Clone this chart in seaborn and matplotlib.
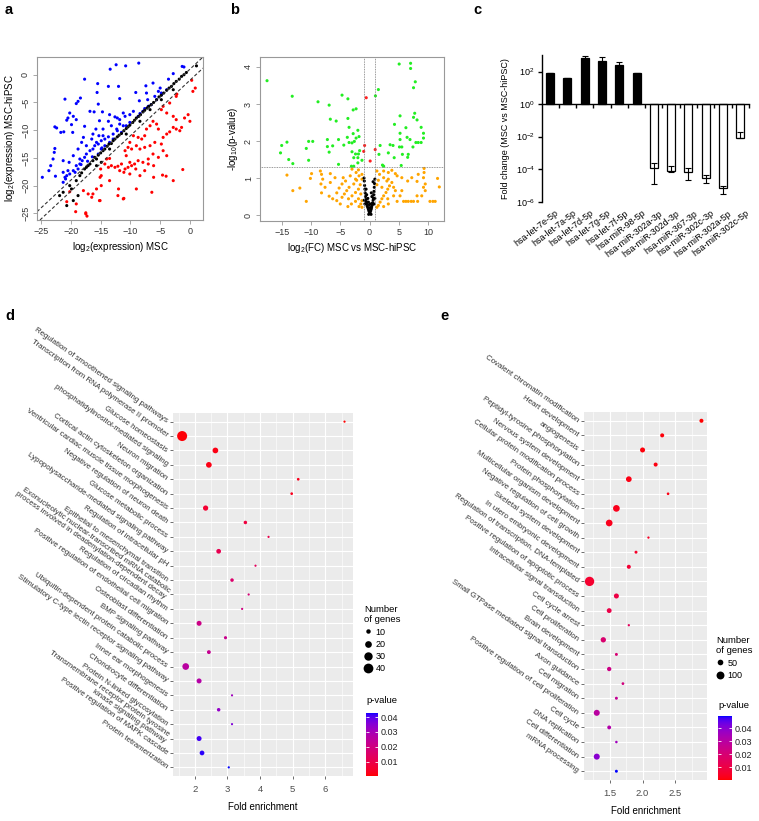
import numpy as np
import pandas as pd
import matplotlib
matplotlib.use("Agg")
import matplotlib.pyplot as plt
import seaborn as sns
from matplotlib.colors import LinearSegmentedColormap, Normalize
from matplotlib.cm import ScalarMappable
from matplotlib.lines import Line2D
from matplotlib.transforms import ScaledTranslation

# ---------------- data ----------------
# panel a : log2 expression MSC (x) vs MSC-hiPSC (y)
a_up_x = [-12.4, -10.8, -13.4, -8.6, -1.3, -1.0, -17.7, -15.5, -12.0, -13.7, -7.4, -6.2, -2.8, -3.6, -5.0, -5.3,
          -3.9, -9.1, -15.6, -21.0, -18.4, -18.8, -15.4, -19.1, -11.8, -8.5, -7.1, -5.9, -4.8, -7.3, -20.2, -19.6,
          -20.5, -20.7, -19.9, -22.7, -22.4, -21.2, -21.7, -19.7, -16.8, -16.1, -14.7, -15.2, -13.5, -12.6, -12.2,
          -11.8, -10.9, -11.2, -10.1, -9.5, -8.7, -8.4, -7.9, -7.6, -7.0, -6.5, -5.6, -4.8, -10.1, -10.7, -11.5,
          -12.2, -12.9, -13.7, -14.3, -14.9, -15.4, -16.0, -16.3, -16.8, -17.4, -17.7, -18.1, -18.5, -19.1, -18.8,
          -19.6, -20.2, -20.7, -21.0, -21.3, -22.7, -22.8, -23.0, -23.4, -23.7, -24.8, -22.6, -21.3, -19.6, -17.4,
          -16.5, -16.3, -15.8, -17.9, -17.7, -19.1, -15.3, -14.6, -13.2, -11.8, -11.2, -13.7, -15.7, -14.9, -14.3,
          -13.5, -12.9, -17.2, -18.3, -18.5, -19.3, -20.5, -20.9, -21.3, -20.3, -18.8, -18.2, -14.6, -16.4, -15.4,
          -14.8, -12.3]
a_up_y = [1.8, 1.6, 1.0, 2.1, 1.5, 1.4, -0.8, -1.6, -2.1, -2.1, -2.0, -1.5, 0.2, -0.8, -2.4, -3.0,
          -2.7, -3.2, -3.2, -4.4, -4.2, -4.8, -5.3, -5.2, -4.3, -4.7, -4.5, -3.9, -3.3, -3.3, -6.9, -7.5,
          -7.8, -8.2, -9.0, -9.4, -9.6, -10.3, -10.4, -10.4, -6.6, -6.7, -6.7, -8.3, -7.2, -7.6, -7.8,
          -8.1, -7.5, -6.9, -7.2, -6.6, -7.5, -7.0, -6.6, -6.1, -5.7, -5.4, -4.5, -3.6, -8.6, -9.2, -10.4,
          -10.1, -10.7, -11.2, -11.6, -11.9, -12.5, -12.8, -13.4, -13.7, -14.3, -14.9, -15.5, -16.1, -16.4, -17.0,
          -17.3, -17.9, -18.2, -18.5, -17.6, -13.3, -14.0, -15.2, -16.4, -17.3, -18.5, -18.3, -15.5, -14.6, -12.8,
          -11.6, -10.7, -9.8, -11.3, -9.3, -8.1, -11.0, -9.8, -9.2, -8.9, -9.2, -8.4, -12.2, -13.4, -12.8,
          -12.2, -11.6, -15.6, -16.2, -15.2, -17.6, -17.3, -18.8, -19.4, -15.8, -13.4, -12.2, -11.0, -14.8, -14.3,
          -13.2, -9.8]
a_down_x = [0.3, 0.9, 0.5, -2.2, -2.3, -3.4, -4.5, -4.8, -3.9, -2.8, -2.3, -0.9, -0.3, 0.0, -1.4, -1.7, -2.3,
            -2.8, -3.4, -3.9, -4.5, -5.3, -5.6, -6.2, -6.7, -7.3, -7.6, -8.1, -8.7, -9.5, -10.1, -10.4, -9.8,
            -9.0, -8.4, -7.6, -6.7, -5.9, -4.8, -4.5, -3.9, -5.3, -6.2, -7.0, -7.9, -8.7, -9.3, -9.8, -10.4,
            -10.9, -11.5, -12.1, -12.6, -13.2, -13.7, -14.3, -14.0, -13.5, -11.8, -11.1, -10.1, -9.1, -8.4, -10.1,
            -10.7, -10.9, -7.6, -7.0, -6.1, -4.6, -6.1, -15.1, -14.9, -13.5, -12.1, -11.2, -15.1, -16.3, -17.9,
            -19.1, -17.5, -16.5, -9.0, -15.7, -14.9, -15.0, -20.2, -17.1, -20.7, -19.2, -17.5, -17.3, -15.2,
            -12.0, -11.1, -6.4, -2.8, -4.0, -1.2]
a_down_y = [-1.0, -2.4, -3.0, -3.5, -3.9, -5.1, -5.7, -6.3, -6.9, -7.5, -8.1, -7.8, -7.2, -8.4, -9.5, -10.1, -9.8,
            -9.5, -10.3, -10.7, -11.3, -9.8, -8.9, -8.4, -9.2, -9.8, -11.0, -11.6, -11.3, -11.0, -12.2, -13.1, -13.4,
            -12.8, -13.4, -13.1, -12.8, -12.2, -12.5, -13.7, -14.6, -14.9, -14.3, -15.2, -15.8, -15.5, -16.1, -16.4, -16.7,
            -17.0, -16.1, -16.5, -16.7, -16.4, -16.7, -16.1, -15.2, -15.1, -17.3, -17.6, -17.9, -17.0, -18.2, -15.8,
            -14.6, -13.7, -17.3, -16.1, -18.5, -18.1, -16.4, -18.5, -18.2, -19.1, -21.8, -22.4, -22.7, -21.5, -20.9,
            -23.3, -24.9, -22.1, -20.6, -20.6, -20.0, -17.0, -21.1, -21.5, -22.9, -24.7, -25.1, -25.5, -22.7,
            -20.6, -22.3, -21.2, -19.1, -18.3, -17.1]
a_ns_x = [-21.9, -21.3, -20.2, -19.9, -19.1, -18.5, -18.2, -17.7, -17.4, -17.1, -16.8, -16.3, -16.0, -15.7, -15.4,
          -15.0, -14.6, -14.3, -13.9, -13.6, -13.2, -12.9, -12.6, -12.2, -11.9, -11.5, -11.1, -10.7, -10.4, -10.1,
          -9.6, -9.3, -9.0, -8.6, -8.3, -7.9, -7.6, -7.2, -6.9, -6.5, -6.1, -5.6, -5.2, -4.8, -4.4, -3.9, -3.5,
          -3.1, -2.7, -2.3, -1.8, -1.4, -1.0, -0.6, 1.1, -18.8, -20.7, -19.6, -15.7, -14.9, -13.5, -10.7, -8.4,
          -6.7, -4.8, -2.8]
a_ns_y = [-21.8, -21.2, -20.0, -20.6, -19.1, -18.2, -17.7, -17.0, -16.7, -16.4, -16.1, -15.5, -14.9, -15.2, -14.5,
          -14.1, -13.7, -13.4, -12.9, -12.5, -12.4, -11.9, -11.6, -11.2, -10.9, -10.6, -10.1, -9.7, -9.4, -9.1,
          -8.6, -8.2, -7.8, -7.5, -7.2, -6.7, -6.4, -6.0, -5.7, -5.4, -5.0, -4.5, -4.0, -3.7, -3.3, -2.8, -2.4,
          -2.1, -1.6, -1.2, -0.8, -0.3, 0.0, 0.4, 1.6, -21.8, -23.6, -22.7, -16.4, -15.8, -13.4, -10.7, -8.4,
          -6.3, -4.5, -2.7]

# panel b : volcano, log2 FC (x) vs -log10 p (y)
b_sig_x = [-17.5, -13.2, -8.8, -4.7, -3.7, 5.05, 7.0, 7.0, 7.8, 7.5, 1.5, 1.0, -6.9, -2.8, -2.3, -6.7, -5.7, -3.7,
           5.2, 7.7, 7.5, 8.1, 4.25, -3.5, 8.8, 6.2, 9.2, 5.2, -2.8, -2.0, -3.8, -5.3, -7.2, -2.3, -1.8, -3.5, -3.0,
           -2.6, -10.4, -9.7, -14.1, -15.0, -10.8, -7.2, -6.3, -4.4, 6.4, 6.9, 9.2, 8.8, 8.3, 7.9, 5.2, 5.1, 5.5,
           4.0, 3.5, 3.2, 1.8, 1.6, 5.6, 6.6, 6.5, 7.4, 4.2, 5.4, -15.2, -13.8, -13.1, -10.4, -6.9, -5.3, -3.0,
           -2.4, -1.9, -2.7, -2.0, -1.7, -1.3, -2.0, -3.1, -2.7, 2.2, 2.4]
b_sig_y = [3.63, 3.21, 3.06, 3.24, 3.14, 4.08, 4.1, 3.96, 3.6, 3.44, 3.39, 3.22, 2.97, 2.84, 2.87, 2.59, 2.54, 2.61,
           2.68, 2.75, 2.64, 2.57, 2.45, 2.37, 2.37, 2.36, 2.21, 2.21, 2.2, 2.29, 2.1, 2.04, 2.04, 2.08, 2.12, 1.96, 1.95,
           1.99, 1.99, 1.99, 1.97, 1.88, 1.8, 1.85, 1.87, 1.89, 2.1, 2.04, 2.08, 1.96, 1.96, 1.96, 2.04, 1.84, 1.84,
           1.88, 1.9, 1.68, 1.88, 1.64, 1.64, 1.64, 1.56, 1.84, 1.55, 1.34, 1.68, 1.5, 1.39, 1.48, 1.7, 1.37, 1.71,
           1.65, 1.65, 1.55, 1.55, 1.74, 1.48, 1.41, 1.32, 1.32, 1.35, 1.32]
b_fcsig_x = [-0.57, -0.85, -1.0, 0.96, 0.1]
b_fcsig_y = [3.17, 1.88, 1.72, 1.77, 1.46]
b_fc_x = [-14.1, -11.9, -13.1, -10.8, -10.1, -9.9, -8.4, -8.2, -8.0, -8.3, -8.2, -6.9, -6.3, -5.6, -5.2, -4.7, -4.1,
          -4.5, -5.9, -6.7, -3.3, -3.0, -1.9, -2.3, -1.8, -2.2, -2.7, -3.5, -3.9, -4.3, -4.7, -3.6, -3.0, -2.4, -1.9,
          -1.6, -1.5, -1.9, -2.4, -1.5, -1.3, -5.0, -3.1, -3.7, -1.8, 1.5, 1.25, 1.8, 2.1, 2.4, 2.8, 3.1, 3.4, 3.8,
          3.1, 4.4, 4.1, 2.95, 2.1, 1.5, 1.25, 1.25, 1.7, 2.4, 3.2, 3.8, 4.4, 4.7, 5.5, 6.5, 7.2, 8.3, 8.1, 9.3,
          9.3, 9.2, 9.5, 9.2, 9.5, 11.6, 11.9, 5.8, 6.2, 6.6, 7.1, 7.5, 8.2, 10.3, 10.8, 11.2, 8.1, 8.9, 4.7, 3.2,
          2.4, -1.3, -1.3, -2.4, -6.7, -7.6, -5.6, -1.3, 2.4, 3.2, 4.1, 5.5, 5.2]
b_fc_y = [1.08, 0.73, 0.66, 0.37, 0.99, 1.12, 1.19, 1.1, 0.97, 0.84, 0.6, 0.51, 0.44, 0.6, 0.73, 0.84, 0.92,
          1.01, 1.01, 1.12, 1.06, 1.24, 1.22, 1.15, 1.06, 0.94, 0.84, 0.75, 0.66, 0.57, 0.48, 0.44, 0.52, 0.61, 0.7,
          0.82, 0.57, 0.44, 0.37, 0.3, 0.39, 0.3, 0.3, 0.23, 0.23, 0.26, 0.21, 0.35, 0.44, 0.52, 0.61, 0.7, 0.79, 0.88,
          0.44, 0.66, 0.52, 0.92, 0.75, 0.94, 0.82, 1.19, 1.1, 1.19, 1.15, 1.21, 1.12, 1.06, 1.01, 0.92, 1.01, 1.1, 0.91, 1.26,
          1.15, 1.01, 0.84, 0.75, 0.66, 0.99, 0.76, 0.37, 0.37, 0.37, 0.37, 0.37, 0.37, 0.37, 0.37, 0.37, 0.52, 0.52, 0.37, 0.3,
          0.23, 0.97, 1.1, 0.97, 0.88, 0.75, 0.39, 0.21, 1.01, 0.97, 0.75, 0.66, 0.52]
b_ns_x = [0.0, 0.1, -0.1, 0.2, -0.2, 0.3, -0.3, 0.35, -0.4, 0.45, -0.5, 0.5, -0.55, 0.6, -0.6, 0.65, -0.7, 0.7,
          -0.75, 0.75, -0.8, 0.8, -0.85, 0.85, -0.9, 0.9, -0.95, -0.5, 0.3, -0.2, 0.15, 0.05, -0.05, 0.6, -0.6,
          0.4, -0.3, 0.75, -0.8, 0.9, -0.9, 0.25, -0.15]
b_ns_y = [0.05, 0.08, 0.1, 0.12, 0.15, 0.17, 0.2, 0.22, 0.24, 0.27, 0.3, 0.33, 0.36, 0.4, 0.42, 0.46, 0.5, 0.55,
          0.6, 0.64, 0.7, 0.75, 0.8, 0.85, 0.92, 0.97, 1.0, 0.55, 0.6, 0.35, 0.3, 0.2, 0.28, 0.9, 0.7,
          0.5, 0.45, 0.3, 0.3, 0.45, 0.4, 0.02, 0.02]

# panel c : miRNA fold change
c_mirna = ["hsa-let-7e-5p", "hsa-let-7a-5p", "hsa-let-7d-5p", "hsa-let-7g-5p", "hsa-let-7f-5p", "hsa-miR-98-5p",
           "hsa-miR-302a-3p", "hsa-miR-302d-3p", "hsa-miR-367-3p", "hsa-miR-302c-3p", "hsa-miR-302a-5p",
           "hsa-miR-302c-5p"]
c_fc = [87, 41, 660, 480, 245, 83, 1.15e-4, 7.8e-5, 6.5e-5, 3.0e-5, 6.8e-6, 8.5e-3]
c_fc_high = [87, 41, 955, 760, 380, 83, 2.3e-4, 1.58e-4, 1.15e-4, 4.4e-5, 9.3e-6, 2.0e-2]
c_fc_low = [87, 41, 365, 200, 110, 83, 1.17e-5, 7.0e-5, 2.2e-5, 1.35e-5, 2.9e-6, 8.0e-3]
c_ticks = [-6, -4, -2, 0, 2]

# panel d : GO enrichment (MSC)
d_terms = ["Regulation of smoothened signaling pathways", "Transcription from RNA polymerase II promoter",
           "Glucose homeostasis", "phosphatidylinositol-mediated signaling", "Neuron migration",
           "Cortical actin cytoskeleton organization", "Ventricular cardiac muscle tissue morphogenesis",
           "Negative regulation of neuron death", "Glucose metabolic process",
           "Lypopolysaccharide-mediated signaling pathway", "Regulation of intracellular pH",
           "Epithelial to mesenchymal transition",
           "Exonucleolytic nuclear-transcribed mRNA catabolic\nprocess involved in deadenylation-dependent decay",
           "Regulation of circadian rhythm", "Positive regulation of endothelial cell migration",
           "Osteoblast differentiation", "BMP signaling pathway", "Ubiquitin-dependent protein catabolic process",
           "Stimulatory C-type lectin receptor signaling pathway", "Inner ear morphogenesis",
           "Chondrocyte differentiation", "Protein N-linked glycosylation",
           "Transmembrane receptor protein tyrosine\nkinase signaling pathway", "Positive regulation of MAPK cascade",
           "Protein tetramerization"]
d_fold = [6.59, 1.61, 2.63, 2.43, 5.17, 4.97, 2.33, 3.55, 4.26, 2.73, 3.86, 3.14, 3.65, 3.45, 2.13, 2.94, 2.43,
          1.72, 2.13, 3.14, 2.73, 3.14, 2.13, 2.22, 3.04]
d_genes = [4, 42, 15, 15, 5, 5, 13, 7, 4, 11, 4, 7, 4, 4, 12, 6, 8, 20, 12, 4, 7, 4, 12, 11, 4]
d_pval = [0.0004, 0.001, 0.002, 0.002, 0.003, 0.003, 0.006, 0.008, 0.010, 0.011, 0.013, 0.016, 0.018, 0.020,
          0.021, 0.022, 0.023, 0.026, 0.027, 0.031, 0.033, 0.036, 0.041, 0.042, 0.0427]
d_size_breaks = [10, 20, 30, 40]

# panel e : GO enrichment (MSC-hiPSC)
e_terms = ["Covalent chromatin modification", "Heart development", "angiogenesis",
           "Peptidyl-tyrosine phosphorylation", "Nervous system development",
           "Cellular protein modification process", "Protein phosphorylation", "Multicellular organism development",
           "Negative regulation of cell growth", "Skeletal system development", "In utero embryonic development",
           "Regulation of transcription, DNA-templated", "Positive regulation of apoptotic process",
           "Intracellular signal transduction", "Cell cycle arrest", "Cell proliferation", "Brain development",
           "Small GTPase mediated signal transduction", "Axon guidance", "Cell migration",
           "Positive regulation of cell proliferation", "Cell cycle", "DNA replication", "Cell differentiation",
           "mRNA processing"]
e_fold = [2.90, 2.30, 2.00, 2.20, 1.79, 2.39, 1.60, 1.49, 2.09, 1.90, 1.79, 1.19, 1.60, 1.49, 1.79, 1.40, 1.60,
          1.49, 1.70, 1.60, 1.30, 1.49, 1.60, 1.30, 1.60]
e_genes = [24, 24, 39, 24, 51, 9, 71, 71, 6, 12, 24, 140, 39, 36, 6, 44, 12, 28, 10, 12, 57, 22, 8, 57, 12]
e_pval = [0.0001, 0.001, 0.001, 0.0015, 0.002, 0.002, 0.003, 0.003, 0.004, 0.005, 0.007, 0.006, 0.010, 0.011,
          0.015, 0.019, 0.020, 0.024, 0.022, 0.027, 0.030, 0.032, 0.036, 0.040, 0.0496]
e_size_breaks = [50, 100]
p_ticks = [0.01, 0.02, 0.03, 0.04]

# ---------------- style ----------------
plt.rcParams["font.family"] = ["Liberation Sans", "DejaVu Sans"]
plt.rcParams["mathtext.fontset"] = "custom"
plt.rcParams["mathtext.rm"] = "Liberation Sans"
plt.rcParams["mathtext.it"] = "Liberation Sans:italic"
plt.rcParams["mathtext.bf"] = "Liberation Sans:bold"
plt.rcParams["mathtext.default"] = "regular"

W, H = 759, 821
fig = plt.figure(figsize=(W / 100, H / 100), dpi=100)


def px_axes(x0, y0, x1, y1):
    return fig.add_axes([x0 / W, 1 - y1 / H, (x1 - x0) / W, (y1 - y0) / H])


# red -> blue gradient interpolated in CIELAB (ggplot2 style)
_M = np.array([[0.4124564, 0.3575761, 0.1804375], [0.2126729, 0.7151522, 0.0721750],
               [0.0193339, 0.1191920, 0.9503041]])
_WHITE = np.array([0.95047, 1.0, 1.08883])


def srgb2lab(c):
    c = np.asarray(c, float)
    lin = np.where(c <= 0.04045, c / 12.92, ((c + 0.055) / 1.055) ** 2.4)
    xyz = _M @ lin / _WHITE
    f = np.where(xyz > (6 / 29) ** 3, np.cbrt(xyz), xyz / (3 * (6 / 29) ** 2) + 4 / 29)
    return np.array([116 * f[1] - 16, 500 * (f[0] - f[1]), 200 * (f[1] - f[2])])


def lab2srgb(lab):
    L, a, b = lab
    fy = (L + 16) / 116
    f = np.array([fy + a / 500, fy, fy - b / 200])
    xyz = np.where(f > 6 / 29, f ** 3, 3 * (6 / 29) ** 2 * (f - 4 / 29)) * _WHITE
    lin = np.clip(np.linalg.solve(_M, xyz), 0, 1)
    c = np.where(lin <= 0.0031308, 12.92 * lin, 1.055 * lin ** (1 / 2.4) - 0.055)
    return np.clip(c, 0, 1)


lab_r, lab_b = srgb2lab([1, 0, 0]), srgb2lab([0, 0, 1])
grad = [lab2srgb(lab_r + t * (lab_b - lab_r)) for t in np.linspace(0, 1, 128)]
cmap_rb = LinearSegmentedColormap.from_list("red_blue_lab", grad)

GREY_TXT = "#333333"

# ---------------- panel a ----------------
axA = px_axes(37, 57, 203, 220)
df_a = pd.DataFrame({
    "msc": a_up_x + a_down_x + a_ns_x,
    "hipsc": a_up_y + a_down_y + a_ns_y,
    "grp": ["up"] * len(a_up_x) + ["down"] * len(a_down_x) + ["ns"] * len(a_ns_x)})
sns.scatterplot(data=df_a, x="msc", y="hipsc", hue="grp",
                palette={"up": "#0000FF", "down": "#FF0000", "ns": "#000000"},
                s=5, linewidth=0, legend=False, ax=axA)
for off in (1, -1):
    axA.axline((0, off), slope=1, color="#333333", lw=0.8, ls=(0, (3, 2)))
axA.set_xlim(-25.7, 2.2)
axA.set_ylim(-26.2, 3.2)
axA.set_xticks([-25, -20, -15, -10, -5, 0])
axA.set_yticks([-25, -20, -15, -10, -5, 0])
axA.set_xlabel(r"log$_2$(expression) MSC", fontsize=7, labelpad=3)
axA.set_ylabel(r"log$_2$(expression) MSC-hiPSC", fontsize=7, labelpad=3)

# ---------------- panel b ----------------
axB = px_axes(260, 57, 444, 221)
df_b = pd.DataFrame({
    "fc": b_fc_x + b_sig_x + b_fcsig_x + b_ns_x,
    "nlp": b_fc_y + b_sig_y + b_fcsig_y + b_ns_y,
    "grp": ["fc"] * len(b_fc_x) + ["sig"] * len(b_sig_x) + ["both"] * len(b_fcsig_x) + ["ns"] * len(b_ns_x)})
sns.scatterplot(data=df_b, x="fc", y="nlp", hue="grp",
                palette={"fc": "#FFA500", "sig": "#22EE22", "both": "#FF2020", "ns": "#000000"},
                s=5, linewidth=0, legend=False, ax=axB)
for v in (-1, 1):
    axB.axvline(v, color="#777777", lw=0.6, ls=(0, (1, 1)))
axB.axhline(-np.log10(0.05), color="#777777", lw=0.6, ls=(0, (1, 1)))
axB.set_xlim(-18.7, 12.7)
axB.set_ylim(-0.16, 4.27)
axB.set_xticks([-15, -10, -5, 0, 5, 10])
axB.set_yticks([0, 1, 2, 3, 4])
axB.set_xlabel(r"log$_2$(FC) MSC vs MSC-hiPSC", fontsize=7, labelpad=3)
axB.set_ylabel(r"-log$_{10}$(p-value)", fontsize=7, labelpad=3)

for ax in (axA, axB):
    for sp in ax.spines.values():
        sp.set_color("#999999")
        sp.set_linewidth(0.8)
    ax.tick_params(colors="#999999", labelcolor=GREY_TXT, labelsize=6.5, length=3, width=0.6, pad=2)
    plt.setp(ax.get_yticklabels(), rotation=90, va="center")

# ---------------- panel c ----------------
axC = px_axes(541.7, 55, 749, 201.7)
df_c = pd.DataFrame({"mirna": c_mirna, "lfc": np.log10(c_fc),
                     "dir": ["up" if v > 1 else "down" for v in c_fc]})
sns.barplot(data=df_c, x="mirna", y="lfc", hue="dir", palette={"up": "black", "down": "white"},
            edgecolor="black", linewidth=0.9, width=0.46, dodge=False, legend=False, ax=axC)
lfc = np.log10(c_fc)
yerr = np.vstack([lfc - np.log10(c_fc_low), np.log10(c_fc_high) - lfc])
axC.errorbar(np.arange(len(c_mirna)), lfc, yerr=yerr, fmt="none", ecolor="black", elinewidth=0.8,
             capsize=2.2, capthick=0.8, zorder=5)
axC.set_xlim(-0.48, 11.5)
axC.set_ylim(-6, 3.02)
axC.spines["top"].set_visible(False)
axC.spines["right"].set_visible(False)
axC.spines["bottom"].set_position(("data", 0))
axC.spines["left"].set_linewidth(1.0)
axC.spines["bottom"].set_linewidth(1.0)
axC.set_xticks([])
axC.set_xticks(np.arange(0.5, 12, 1), minor=True)
axC.tick_params(axis="x", which="minor", direction="out", length=3, width=1.0)
axC.set_yticks(c_ticks)
axC.set_yticklabels([rf"$10^{{{t}}}$" for t in c_ticks])
axC.tick_params(axis="y", direction="out", length=3, width=1.0, labelsize=6.5, pad=2)
axC.set_xlabel("")
axC.set_ylabel("Fold change (MSC vs MSC-hiPSC)", fontsize=6.5, labelpad=4)
secC = axC.secondary_xaxis(0)
secC.set_xticks(np.arange(len(c_mirna)))
secC.set_xticklabels(c_mirna, rotation=38, ha="right", va="top", rotation_mode="anchor", fontsize=6.5)
secC.tick_params(length=0, pad=5)
secC.spines["bottom"].set_visible(False)
for lbl in secC.get_xticklabels():
    lbl.set_transform(lbl.get_transform() + ScaledTranslation(5 / 100, 0, fig.dpi_scale_trans))


# ---------------- panels d and e ----------------
def go_panel(box, terms, fold, genes, pval, size_norm, sizes, xlim, xticks, minor, cb_box, leg_xy,
             breaks, ptitle_y):
    ax = px_axes(*box)
    df = pd.DataFrame({"term": terms, "fold": fold, "genes": genes, "p": pval})
    pnorm = (min(pval), max(pval))
    sns.scatterplot(data=df, x="fold", y="term", size="genes", sizes=sizes, size_norm=size_norm,
                    hue="p", palette=cmap_rb, hue_norm=pnorm, linewidth=0, legend=False, ax=ax, zorder=3)
    ax.set_facecolor("#EBEBEB")
    for sp in ax.spines.values():
        sp.set_visible(False)
    ax.set_axisbelow(True)
    ax.set_xlim(*xlim)
    ax.set_ylim(len(terms) - 1 + 0.6, -0.6)
    ax.set_xticks(xticks)
    ax.set_xticks(minor, minor=True)
    ax.grid(which="major", color="white", lw=0.8)
    ax.grid(which="minor", axis="x", color="white", lw=0.4)
    ax.set_yticks(range(len(terms)))
    ax.set_yticklabels(terms, rotation=-35, ha="right", va="center", rotation_mode="anchor",
                       multialignment="right", fontsize=5.7, color="#333333")
    ax.tick_params(axis="both", which="major", color="#333333", length=2.5, width=0.5, pad=2)
    ax.tick_params(axis="x", which="minor", length=0)
    ax.tick_params(axis="x", labelsize=6.8, labelcolor="#4D4D4D", pad=4)
    ax.set_ylabel("")
    ax.set_xlabel("Fold enrichment", fontsize=7, labelpad=6)

    # size legend
    def s_of(v):
        return sizes[0] + (v - size_norm[0]) / (size_norm[1] - size_norm[0]) * (sizes[1] - sizes[0])
    handles = [Line2D([], [], marker="o", ls="none", color="black", markeredgewidth=0,
                      markersize=np.sqrt(s_of(v))) for v in breaks]
    fig.legend(handles, [str(v) for v in breaks], title="Number\nof genes", loc="upper left",
               bbox_to_anchor=(leg_xy[0] / W, 1 - leg_xy[1] / H), frameon=False, fontsize=6.5,
               title_fontsize=6.8, handlelength=0.9, handletextpad=0.4, labelspacing=0.35,
               borderpad=0, borderaxespad=0, alignment="left")
    # colour bar
    cax = px_axes(*cb_box)
    cb = fig.colorbar(ScalarMappable(norm=Normalize(*pnorm), cmap=cmap_rb), cax=cax, ticks=p_ticks)
    cb.outline.set_visible(False)
    cb.ax.set_yticklabels([f"{t:.2f}" for t in p_ticks])
    cb.ax.tick_params(direction="in", colors="white", labelcolor="#222222", length=2.5, width=0.6,
                      labelsize=6.5, left=True, right=True, pad=2)
    fig.text(cb_box[0] / W, 1 - ptitle_y / H, "p-value", fontsize=6.8, va="center", ha="left")
    return ax


axD = go_panel((173, 413, 353, 776), d_terms, d_fold, d_genes, d_pval, (4, 42), (2.5, 52),
               (1.33, 6.85), [2, 3, 4, 5, 6], [1.5, 2.5, 3.5, 4.5, 5.5, 6.5],
               (366, 713, 378, 776), (364, 605), d_size_breaks, 700)
axE = go_panel((584, 412, 707, 780), e_terms, e_fold, e_genes, e_pval, (6, 140), (2.7, 45),
               (1.105, 2.985), [1.5, 2.0, 2.5], [1.25, 1.75, 2.25, 2.75],
               (718, 716, 732, 780), (716, 636), e_size_breaks, 705)
axE.set_xticklabels(["1.5", "2.0", "2.5"])

# ---------------- panel letters ----------------
for letter, (x, y) in {"a": (5, 10), "b": (230, 10), "c": (473, 10), "d": (5, 316), "e": (440, 316)}.items():
    fig.text(x / W, 1 - y / H, letter, fontsize=10.5, fontweight="bold", ha="left", va="center")

fig.savefig("out.png", dpi=100)
